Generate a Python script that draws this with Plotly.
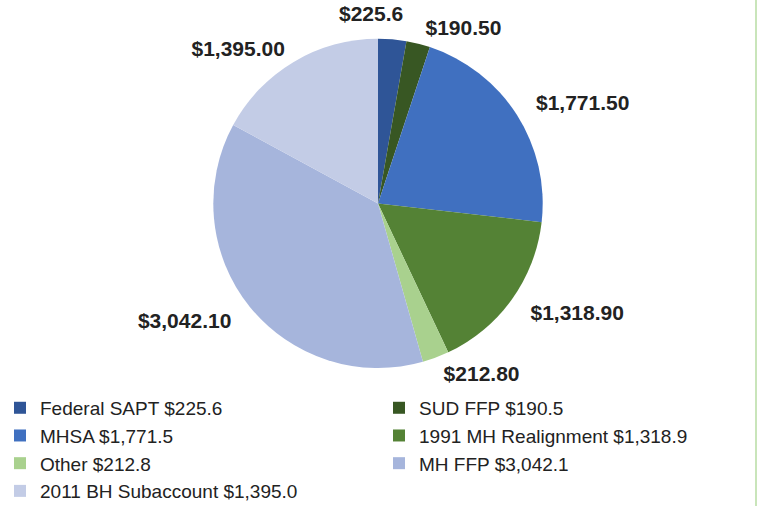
import math
import plotly.graph_objects as go

categories = ["Federal SAPT $225.6", "SUD FFP $190.5", "MHSA $1,771.5",
              "1991 MH Realignment $1,318.9", "Other $212.8", "MH FFP $3,042.1",
              "2011 BH Subaccount $1,395.0"]
values = [225.6, 190.5, 1771.5, 1318.9, 212.8, 3042.1, 1395.0]
slice_labels = ["$225.6", "$190.50", "$1,771.50", "$1,318.90", "$212.80",
                "$3,042.10", "$1,395.00"]
colors = ["#2f5597", "#385723", "#4070c0", "#548235", "#a9d18e", "#a6b5dc", "#c3cce6"]

W, H = 758, 510
cx, cy, r = 378, 205, 166

def dom(rad):
    return dict(x=[(cx - rad) / W, (cx + rad) / W], y=[1 - (cy + rad) / H, 1 - (cy - rad) / H])

label_font = dict(family="Liberation Sans, Arial, sans-serif", size=21,
                  color="#222222", weight="bold")

fig = go.Figure()
# visible pie
fig.add_trace(go.Pie(
    labels=categories, values=values,
    textinfo="none", sort=False, direction="clockwise", rotation=0,
    marker=dict(colors=colors, line=dict(width=0)),
    domain=dom(r), showlegend=True, hoverinfo="label+value",
))
# transparent pies carrying the outside data labels (label distance per group)
groups = [([2, 3, 5], 182), ([1, 4, 6], 172)]
for keep, rad in groups:
    fig.add_trace(go.Pie(
        labels=categories, values=values,
        text=[t if i in keep else "" for i, t in enumerate(slice_labels)],
        textinfo="text", textposition="outside",
        sort=False, direction="clockwise", rotation=0,
        marker=dict(colors=["rgba(0,0,0,0)"] * len(values), line=dict(width=0)),
        outsidetextfont=label_font,
        domain=dom(rad), showlegend=False, hoverinfo="skip",
    ))

# label of the first (thin, top) slice, placed at its mid-angle
total = sum(values)
mid = (values[0] / 2) / total * 2 * math.pi
R = 178
fig.add_annotation(
    x=(cx + R * math.sin(mid)) / W, y=1 - (cy - R * math.cos(mid)) / H,
    xref="paper", yref="paper", xanchor="right", yanchor="bottom", xshift=12,
    text=slice_labels[0], showarrow=False, font=label_font,
)

fig.update_layout(
    width=W, height=H,
    margin=dict(l=0, r=0, t=0, b=0),
    paper_bgcolor="white",
    plot_bgcolor="white",
    legend=dict(
        orientation="h",
        x=0.0, xanchor="left",
        y=1 - 392 / H, yanchor="top",
        entrywidth=334, entrywidthmode="pixels",
        bgcolor="rgba(0,0,0,0)",
        font=dict(family="Liberation Sans, Arial, sans-serif",
                  size=19, color="#222222"),
        traceorder="normal",
        itemclick=False,
    ),
    shapes=[dict(type="line", xref="paper", yref="paper", x0=756 / W, x1=756 / W,
                 y0=0, y1=1, line=dict(color="#b7dca3", width=1.5))],
)

fig.write_html("out.html", post_script="document.body.style.margin='0';",
               config={"displayModeBar": False})
